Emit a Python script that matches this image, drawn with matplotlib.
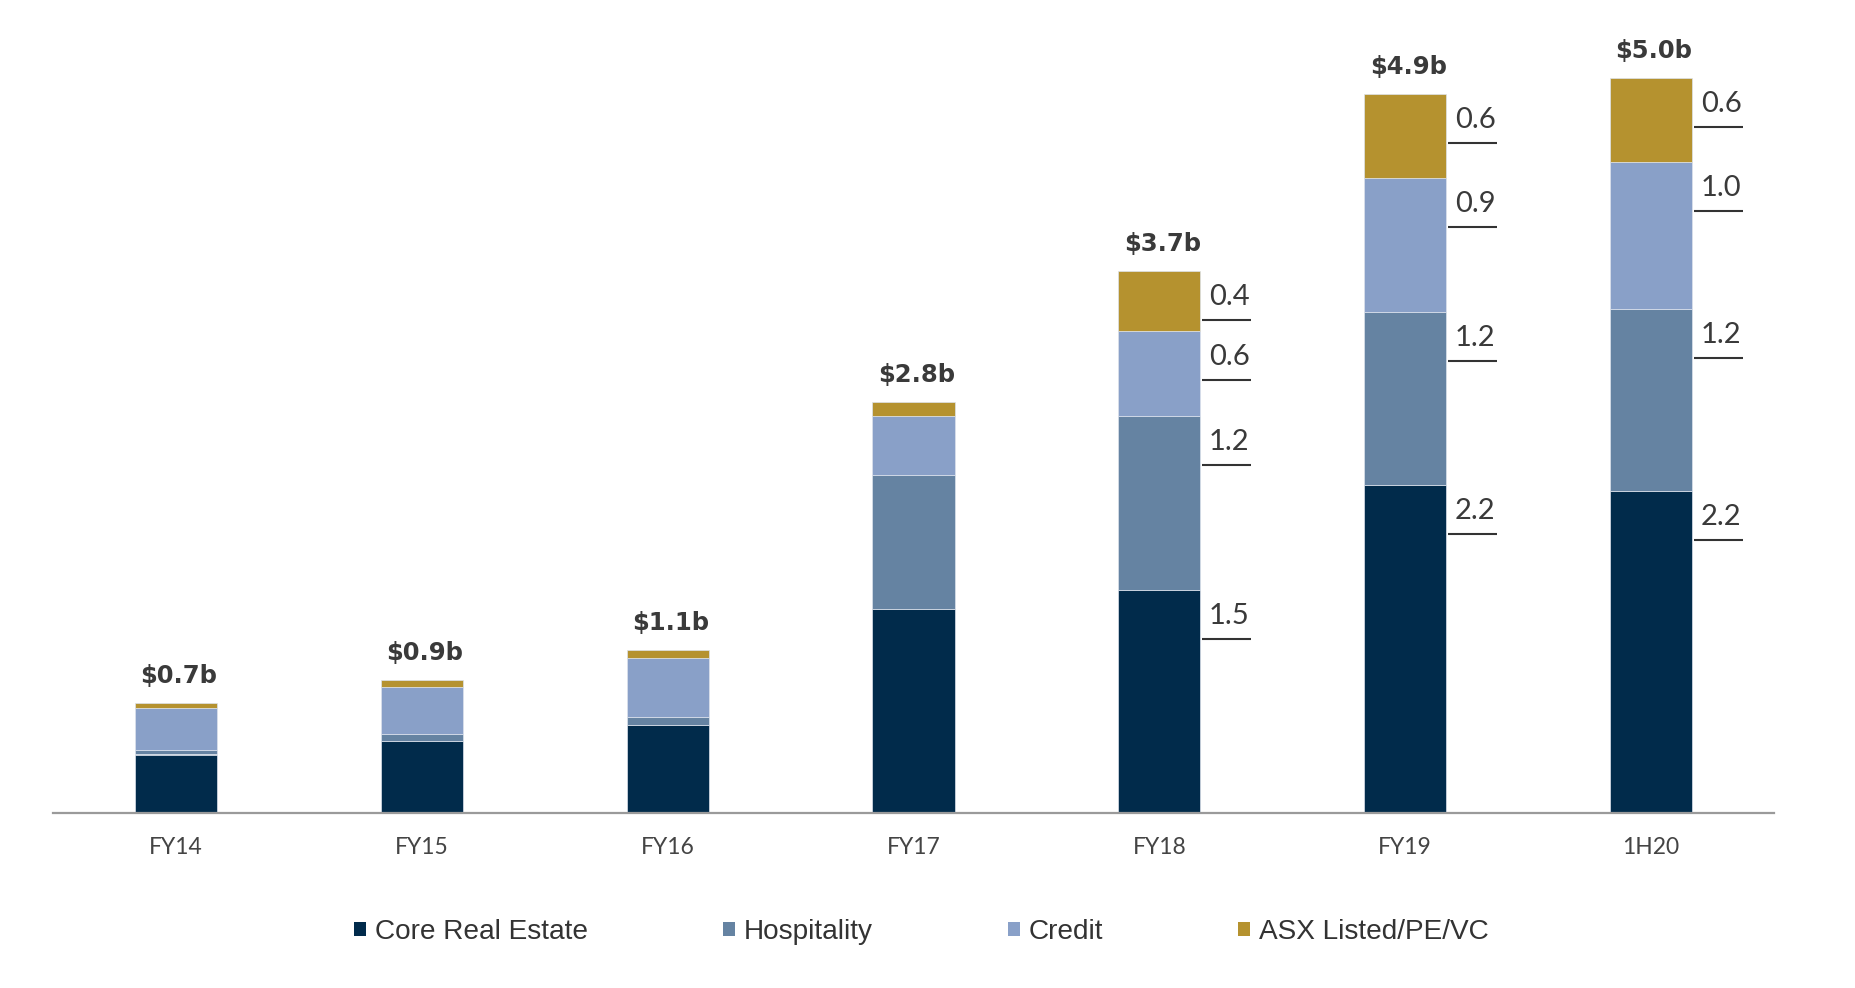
import matplotlib
matplotlib.use("Agg")
import matplotlib.pyplot as plt
from matplotlib.patches import Patch
import numpy as np

# data (A$ billions)
categories = ['FY14', 'FY15', 'FY16', 'FY17', 'FY18', 'FY19', '1H20']
core_real_estate = [0.40, 0.49, 0.60, 1.39, 1.52, 2.23, 2.19]
hospitality = [0.034, 0.05, 0.054, 0.91, 1.18, 1.18, 1.24]
credit = [0.28, 0.32, 0.40, 0.40, 0.58, 0.91, 1.00]
asx_listed = [0.036, 0.045, 0.056, 0.10, 0.41, 0.57, 0.57]
total_labels = ['$0.7b', '$0.9b', '$1.1b', '$2.8b', '$3.7b', '$4.9b', '$5.0b']
# segment labels (core, hospitality, credit, asx) shown for the last three bars
segment_labels = {
    'FY18': ['1.5', '1.2', '0.6', '0.4'],
    'FY19': ['2.2', '1.2', '0.9', '0.6'],
    '1H20': ['2.2', '1.2', '1.0', '0.6'],
}
series_names = ['Core Real Estate', 'Hospitality', 'Credit', 'ASX Listed/PE/VC']
colors = ['#012b4b', '#6583a2', '#89a0c8', '#b5922f']

#layout (pixels)
W, H = 1856, 988
ax_left, ax_right, ax_base = 53, 1774, 813.3
ymax = 5.4
ax_h = 147.0 * ymax
fig = plt.figure(figsize=(W / 100, H / 100), dpi=100)
ax = fig.add_axes([ax_left / W, 1 - ax_base / H, (ax_right - ax_left) / W, ax_h / H])

x = np.arange(len(categories))
bw = 0.334
ax.set_xlim(-0.5, len(categories) - 0.5)
ax.set_ylim(0, ymax)
ppx = len(categories) / (ax_right - ax_left)   # data units per pixel, x
ppy = ymax / ax_h                               # data units per pixel, y

series = [core_real_estate, hospitality, credit, asx_listed]
bottom = np.zeros(len(categories))
tops = []
for vals, col in zip(series, colors):
    vals = np.array(vals)
    ax.bar(x, vals, width=bw, bottom=bottom, color=col,
           edgecolor='#dde3ec', linewidth=0.5)
    bottom = bottom + vals
    tops.append(bottom.copy())

text_col = '#3a3a3a'
for i, lbl in enumerate(total_labels):
    ax.text(x[i] + 3 * ppx, bottom[i] + 27 * ppy, lbl, ha='center', va='center',
            fontsize=17.5, fontweight='bold', family='DejaVu Sans', color=text_col)

for cat, labs in segment_labels.items():
    i = categories.index(cat)
    xr = x[i] + bw / 2
    for k, lab in enumerate(labs):
        top = tops[k][i]
        ax.text(xr + 29 * ppx, top - 26 * ppy, lab, ha='center', va='center',
                fontsize=21, family='Lato', color=text_col)
        ax.plot([xr + 2 * ppx, xr + 51 * ppx], [top - 49 * ppy] * 2,
                color='#333333', lw=1.5, solid_capstyle='butt', clip_on=False)

for s in ['top', 'right', 'left']:
    ax.spines[s].set_visible(False)
ax.spines['bottom'].set_color('#9a9a9a')
ax.spines['bottom'].set_linewidth(1.6)
ax.set_yticks([])
ax.set_xticks(x)
ax.set_xticklabels(categories, family='Lato', fontsize=16.5, color='#444444')
ax.tick_params(axis='x', length=0, pad=17)

handles = [Patch(facecolor=c, edgecolor='none') for c in colors]
fig.legend(handles, series_names, loc='center', bbox_to_anchor=(921.5 / W, 1 - 932 / H),
           ncol=4, frameon=False, borderpad=0, handlelength=0.43, handleheight=0.43,
           handletextpad=0.32, columnspacing=4.8,
           prop={'family': 'Liberation Sans', 'size': 20.2},
           labelcolor='#333333')

fig.savefig('out.png', dpi=100)
